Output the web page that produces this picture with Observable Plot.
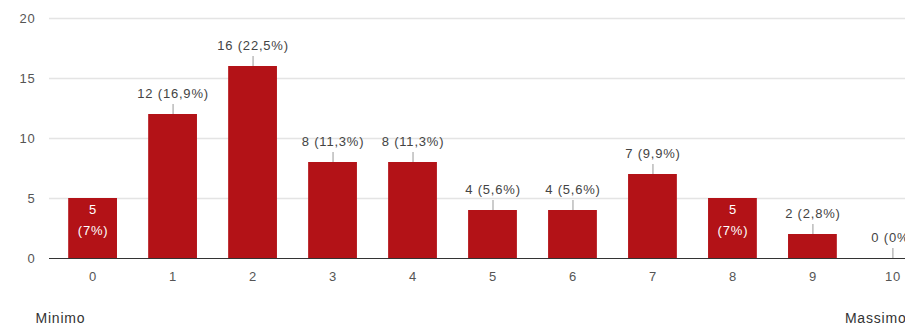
<!DOCTYPE html>
<html>
<head>
<meta charset="utf-8">
<script src="https://cdn.jsdelivr.net/npm/d3@7"></script>
<script src="https://cdn.jsdelivr.net/npm/@observablehq/plot@0.6"></script>
<style>
  html, body { margin: 0; padding: 0; background: #fff; overflow: hidden; }
  #chart { width: 905px; height: 329px; overflow: hidden; }
  #chart svg { max-width: none !important; width: 936px !important; height: 329px !important; }
</style>
</head>
<body>
<div id="chart"></div>
<script>
const categories = ["0", "1", "2", "3", "4", "5", "6", "7", "8", "9", "10"];
const counts = [5, 12, 16, 8, 8, 4, 4, 7, 5, 2, 0];
const percents = ["7%", "16,9%", "22,5%", "11,3%", "11,3%", "5,6%", "5,6%", "9,9%", "7%", "2,8%", "0%"];
const yTicks = [0, 5, 10, 15, 20];
const insideLabelCategories = ["0", "8"];
const scaleLabels = ["Minimo", "Massimo"];

const data = categories.map((c, i) => ({cat: c, count: counts[i], pct: percents[i]}));
const outside = data.filter(d => !insideLabelCategories.includes(d.cat));
const inside = data.filter(d => insideLabelCategories.includes(d.cat));

const font = "'Liberation Sans', Arial, sans-serif";
const barColor = "#b31217";

const chart = Plot.plot({
  width: 936,
  height: 329,
  marginLeft: 49,
  marginRight: 0,
  marginTop: 18,
  marginBottom: 71,
  style: {fontFamily: font, fontSize: "13px", background: "white", letterSpacing: "0.8px", overflow: "visible"},
  x: {domain: categories, paddingInner: 0.39, paddingOuter: 0.24, round: false, label: null},
  y: {domain: [0, 20], label: null},
  marks: [
    Plot.gridY(yTicks.filter(t => t > 0), {stroke: "#e4e4e4", strokeOpacity: 1, strokeWidth: 1.5}),
    Plot.axisY(yTicks, {tickSize: 0, tickPadding: 14, fill: "#555", label: null}),
    Plot.axisX({tickSize: 0, tickPadding: 13, fill: "#555", label: null}),
    Plot.barY(data, {x: "cat", y: "count", fill: barColor}),
    Plot.ruleY([0], {stroke: "#333", strokeWidth: 1.2}),
    Plot.ruleX(outside, {x: "cat", y1: "count", y2: "count", insetTop: -10, stroke: "#999"}),
    Plot.text(outside, {x: "cat", y: "count", text: d => `${d.count} (${d.pct})`, dy: -21, fill: "#444"}),
    Plot.text(inside, {x: "cat", y: "count", text: d => `${d.count}\n(${d.pct})`, lineAnchor: "top", dy: 1, lineHeight: 1.6, fill: "white"}),
    Plot.text([scaleLabels[0]], {text: d => d, frameAnchor: "bottom-left", textAnchor: "start", dx: -14, dy: 64, fontSize: 14, fill: "#333", letterSpacing: "0.3px"}),
    Plot.text([scaleLabels[1]], {text: d => d, frameAnchor: "bottom-right", textAnchor: "end", dx: -30, dy: 64, fontSize: 14, fill: "#333", letterSpacing: "0.3px"})
  ]
});
document.getElementById("chart").appendChild(chart);
</script>
</body>
</html>
